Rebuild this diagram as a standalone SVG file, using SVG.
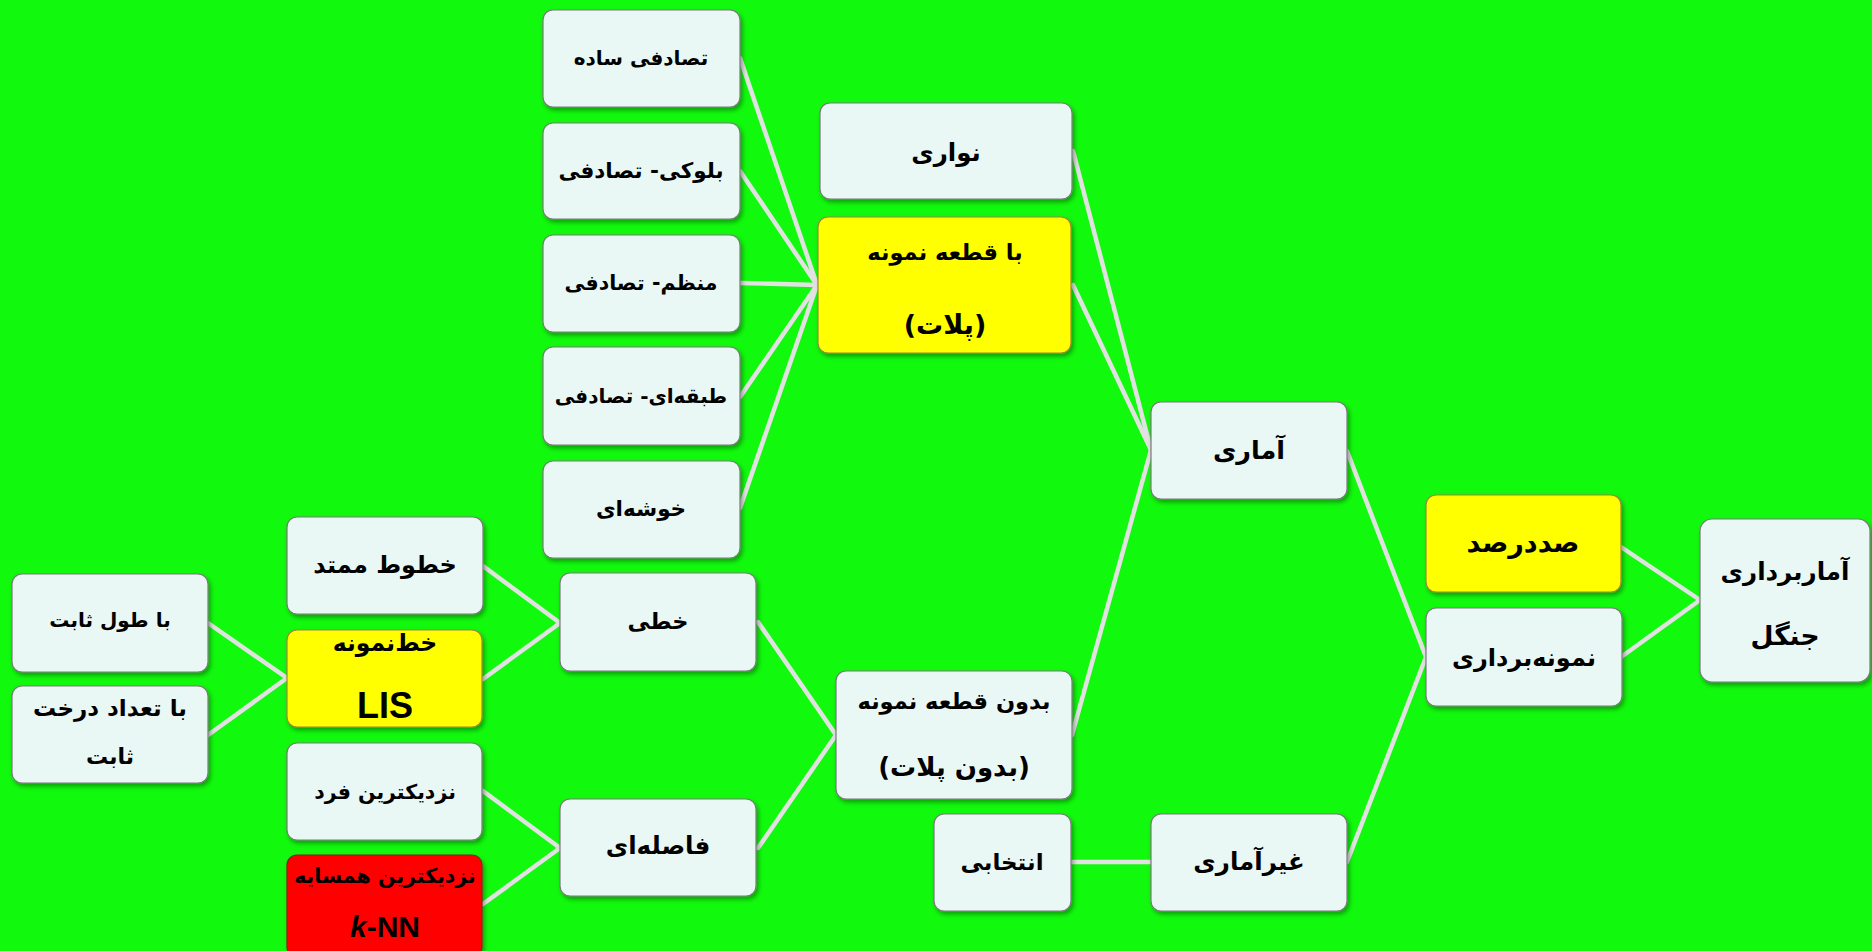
<svg xmlns="http://www.w3.org/2000/svg" width="1872" height="951" viewBox="0 0 1872 951">
<defs>
<filter id="sh" x="-10%" y="-10%" width="125%" height="130%">
<feDropShadow dx="2" dy="3" stdDeviation="2" flood-color="#000" flood-opacity="0.35"/>
</filter>
<style>
.box{fill:#e9f8f4;stroke:#7a7a7a;stroke-width:1.2;filter:url(#sh)}
.yel{fill:#ffff00;stroke:#9a8a30}
.red{fill:#ff0000;stroke:#8a2020}
.t{font-family:"DejaVu Sans",sans-serif;font-weight:bold;fill:#000;text-anchor:middle;direction:rtl}
.lat{font-family:"Liberation Sans",Arial,sans-serif;font-weight:bold;fill:#000;text-anchor:middle}
.c{stroke:#e2e2e2;stroke-width:4.5;fill:none;stroke-linecap:round}
</style>
</defs>
<rect width="1872" height="951" fill="#11f90d"/>
<g id="connectors">
<line class="c" x1="740" y1="58" x2="817" y2="285"/>
<line class="c" x1="740" y1="171" x2="817" y2="285"/>
<line class="c" x1="740" y1="283" x2="817" y2="285"/>
<line class="c" x1="740" y1="397" x2="817" y2="285"/>
<line class="c" x1="740" y1="508" x2="817" y2="285"/>
<line class="c" x1="1073" y1="151" x2="1151" y2="450"/>
<line class="c" x1="1073" y1="285" x2="1151" y2="450"/>
<line class="c" x1="1072" y1="735" x2="1151" y2="450"/>
<line class="c" x1="1347" y1="451" x2="1426" y2="657"/>
<line class="c" x1="1347" y1="862" x2="1426" y2="657"/>
<line class="c" x1="1071" y1="862" x2="1151" y2="862"/>
<line class="c" x1="1621" y1="547" x2="1700" y2="600"/>
<line class="c" x1="1621" y1="657" x2="1700" y2="600"/>
<line class="c" x1="758" y1="622" x2="836" y2="735"/>
<line class="c" x1="758" y1="848" x2="836" y2="735"/>
<line class="c" x1="483" y1="566" x2="560" y2="623"/>
<line class="c" x1="483" y1="679" x2="560" y2="623"/>
<line class="c" x1="483" y1="791" x2="560" y2="848"/>
<line class="c" x1="483" y1="904" x2="560" y2="848"/>
<line class="c" x1="208" y1="623" x2="287" y2="678"/>
<line class="c" x1="208" y1="735" x2="287" y2="678"/>
</g>
<g id="n-sade"><rect class="box" x="543" y="10" width="197" height="97" rx="10"/><text class="t" x="641" y="65" font-size="20">تصادفی ساده</text></g>
<g id="n-bloki"><rect class="box" x="543" y="123" width="197" height="96" rx="10"/><text class="t" x="641" y="178" font-size="21.5">بلوکی- تصادفی</text></g>
<g id="n-monazam"><rect class="box" x="543" y="235" width="197" height="97" rx="10"/><text class="t" x="641" y="290" font-size="20.5">منظم- تصادفی</text></g>
<g id="n-tabaqe"><rect class="box" x="543" y="347" width="197" height="98" rx="10"/><text class="t" x="641" y="403" font-size="20">طبقه‌ای- تصادفی</text></g>
<g id="n-khoshe"><rect class="box" x="543" y="461" width="197" height="97" rx="10"/><text class="t" x="641" y="516" font-size="21.5">خوشه‌ای</text></g>
<g id="n-navari"><rect class="box" x="820" y="103" width="252" height="96" rx="10"/><text class="t" x="946" y="161" font-size="24.5">نواری</text></g>
<g id="n-plot"><rect class="box yel" x="818" y="217" width="253" height="136" rx="10"/><text class="t" x="945" y="260" font-size="22.5">با قطعه نمونه</text><text class="t" x="945" y="334" font-size="27">(پلات)</text></g>
<g id="n-amari"><rect class="box" x="1151" y="402" width="196" height="97" rx="10"/><text class="t" x="1249" y="459" font-size="25.5">آماری</text></g>
<g id="n-sad"><rect class="box yel" x="1426" y="495" width="195" height="97" rx="10"/><text class="t" x="1523" y="552" font-size="27">صددرصد</text></g>
<g id="n-nemune"><rect class="box" x="1426" y="608" width="196" height="98" rx="10"/><text class="t" x="1524" y="666" font-size="24">نمونه‌برداری</text></g>
<g id="n-jangal"><rect class="box" x="1700" y="519" width="170" height="163" rx="12"/><text class="t" x="1785" y="580" font-size="24.5">آماربرداری</text><text class="t" x="1785" y="645" font-size="26.5">جنگل</text></g>
<g id="n-bedun"><rect class="box" x="836" y="671" width="236" height="128" rx="10"/><text class="t" x="954" y="709" font-size="22.5">بدون قطعه نمونه</text><text class="t" x="954" y="776" font-size="26">(بدون پلات)</text></g>
<g id="n-entekhabi"><rect class="box" x="934" y="814" width="137" height="97" rx="10"/><text class="t" x="1002" y="870" font-size="23">انتخابی</text></g>
<g id="n-gheyr"><rect class="box" x="1151" y="814" width="196" height="97" rx="10"/><text class="t" x="1249" y="870" font-size="24.5">غیرآماری</text></g>
<g id="n-khati"><rect class="box" x="560" y="573" width="196" height="98" rx="10"/><text class="t" x="658" y="629" font-size="22.5">خطی</text></g>
<g id="n-fasele"><rect class="box" x="560" y="799" width="196" height="97" rx="10"/><text class="t" x="658" y="854" font-size="24.5">فاصله‌ای</text></g>
<g id="n-momtad"><rect class="box" x="287" y="517" width="196" height="97" rx="10"/><text class="t" x="385" y="573" font-size="24">خطوط ممتد</text></g>
<g id="n-lis"><rect class="box yel" x="287" y="630" width="195" height="97" rx="10"/><text class="t" x="385" y="651" font-size="23.5">خط‌نمونه</text><text class="lat" x="385" y="718" font-size="36">LIS</text></g>
<g id="n-fard"><rect class="box" x="287" y="743" width="195" height="97" rx="10"/><text class="t" x="385" y="799" font-size="20.5">نزدیکترین فرد</text></g>
<g id="n-knn"><rect class="box red" x="287" y="855" width="195" height="102" rx="10"/><text class="t" x="385" y="883" font-size="20.5">نزدیکترین همسایه</text><text class="lat" x="385" y="937" font-size="30"><tspan font-style="italic">k</tspan>-NN</text></g>
<g id="n-tool"><rect class="box" x="12" y="574" width="196" height="98" rx="10"/><text class="t" x="110" y="627" font-size="20">با طول ثابت</text></g>
<g id="n-tedad"><rect class="box" x="12" y="686" width="196" height="97" rx="10"/><text class="t" x="110" y="716" font-size="23">با تعداد درخت</text><text class="t" x="110" y="764" font-size="22">ثابت</text></g>
</svg>
